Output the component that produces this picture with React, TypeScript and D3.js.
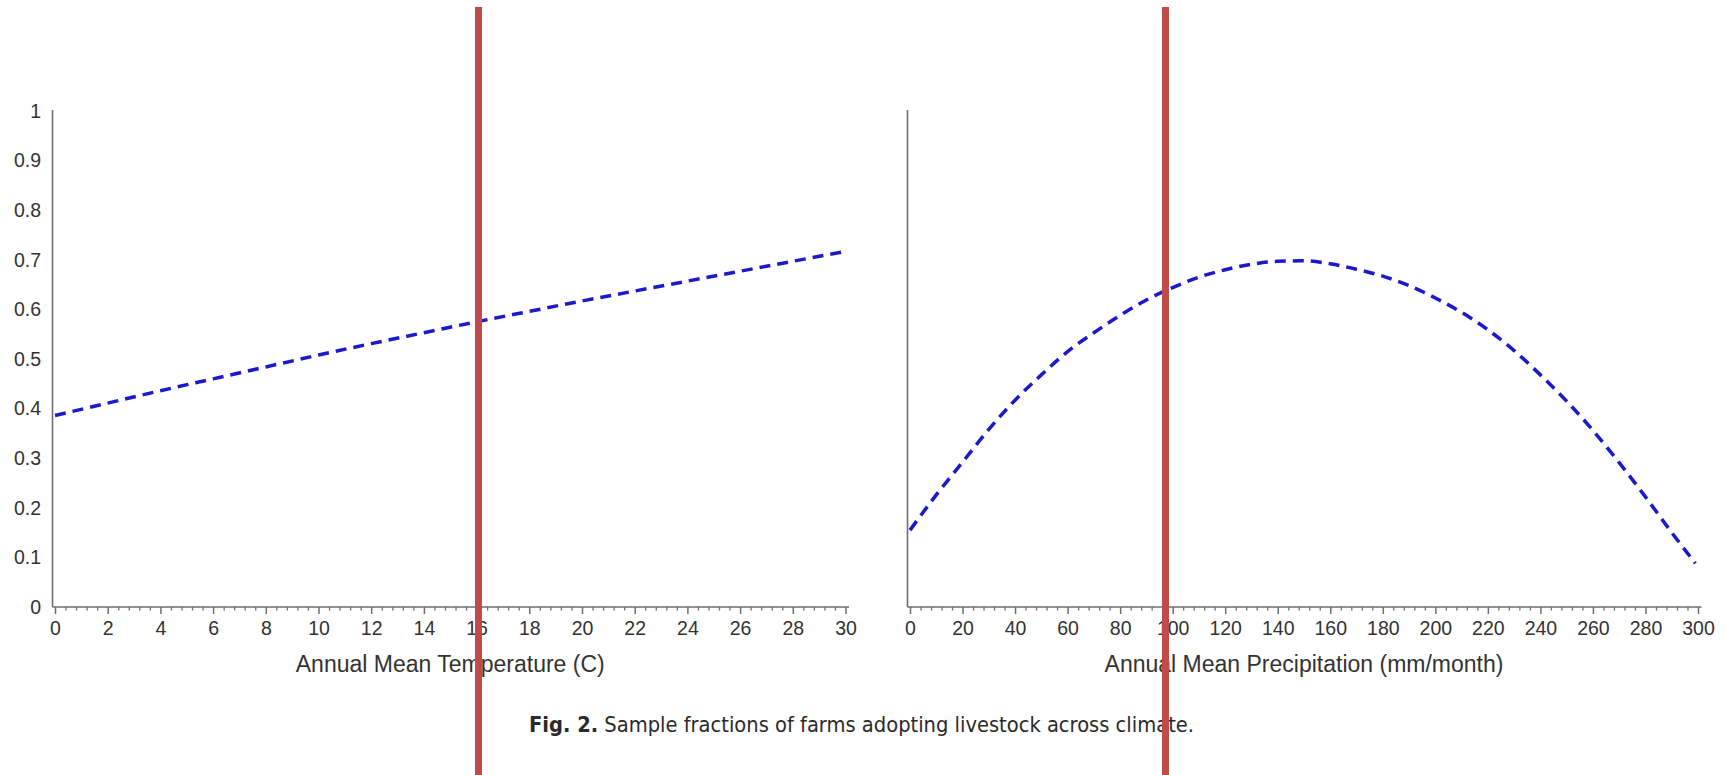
import React, { useRef, useEffect } from 'react';
import * as d3 from 'd3';

// Annual mean temperature (C) vs. share of farms with livestock
const tempValues = [0, 2, 4, 6, 8, 10, 12, 14, 16, 18, 20, 22, 24, 26, 28, 30];
const tempShare = [0.386, 0.411, 0.436, 0.46, 0.484, 0.508, 0.531, 0.553, 0.575, 0.596, 0.617, 0.637, 0.657, 0.677, 0.697, 0.717];

// Annual mean precipitation (mm/month) vs. share of farms with livestock
const precipValues = [0, 10, 20, 30, 40, 50, 60, 70, 80, 90, 100, 110, 120, 130, 140, 150, 160, 170, 180, 190, 200, 210, 220, 230, 240, 250, 260, 270, 280, 290, 299];
const precipShare = [0.155, 0.226, 0.292, 0.358, 0.417, 0.468, 0.515, 0.553, 0.588, 0.619, 0.644, 0.665, 0.68, 0.691, 0.697, 0.698, 0.692, 0.681, 0.667, 0.648, 0.623, 0.594, 0.559, 0.517, 0.468, 0.415, 0.356, 0.291, 0.222, 0.15, 0.088];

const tempTicks = [0, 2, 4, 6, 8, 10, 12, 14, 16, 18, 20, 22, 24, 26, 28, 30];
const precipTicks = [0, 20, 40, 60, 80, 100, 120, 140, 160, 180, 200, 220, 240, 260, 280, 300];
const shareTicks = [0, 0.1, 0.2, 0.3, 0.4, 0.5, 0.6, 0.7, 0.8, 0.9, 1];
const shareLabels = ['0', '0.1', '0.2', '0.3', '0.4', '0.5', '0.6', '0.7', '0.8', '0.9', '1'];

const axisTitles = ['Annual Mean Temperature (C)', 'Annual Mean Precipitation (mm/month)'];
const captionLead = 'Fig. 2.';
const captionRest = ' Sample fractions of farms adopting livestock across climate.';

const W = 1726;
const H = 775;
const FONT = '"Liberation Sans", Arial, Helvetica, sans-serif';
const AXIS_COLOR = '#6f6f6f';
const TEXT_COLOR = '#333';
const TICK_FONT = 19.5;

const ClimateCharts = () => {
    const svgRef = useRef<SVGSVGElement | null>(null);

    useEffect(() => {
        const svg = d3.select(svgRef.current);
        svg.selectAll('*').remove();

        const yScale = d3.scaleLinear().domain([0, 1]).range([607, 111]);

        const panels = [
            {
                x: d3.scaleLinear().domain([0, 30]).range([55, 845.5]),
                xs: tempValues,
                ys: tempShare,
                ticks: tempTicks,
                minorStep: 0.4,
                title: axisTitles[0],
                showY: true,
            },
            {
                x: d3.scaleLinear().domain([0, 300]).range([910, 1698]),
                xs: precipValues,
                ys: precipShare,
                ticks: precipTicks,
                minorStep: 4,
                title: axisTitles[1],
                showY: false,
            },
        ];

        panels.forEach((p) => {
            const g = svg.append('g');
            const [r0, r1] = p.x.range();
            const ax = r0 - 2.5;
            const [d0, d1] = p.x.domain();

            // axis lines
            g.append('line')
                .attr('x1', ax).attr('x2', ax)
                .attr('y1', yScale(0)).attr('y2', yScale(1) - 1)
                .attr('stroke', AXIS_COLOR).attr('stroke-width', 1.6);
            g.append('line')
                .attr('x1', ax).attr('x2', r1 + 3.5)
                .attr('y1', yScale(0)).attr('y2', yScale(0))
                .attr('stroke', AXIS_COLOR).attr('stroke-width', 1.6);

            // minor ticks
            const minor = d3.range(d0, d1 + 1e-6, p.minorStep)
                .filter((v) => !p.ticks.some((t) => Math.abs(t - v) < 1e-6));
            const gMinor = g.append('g')
                .attr('transform', `translate(0,${yScale(0)})`)
                .call(d3.axisBottom(p.x).tickValues(minor).tickSize(3.5).tickFormat(() => ''));
            gMinor.select('.domain').remove();
            gMinor.selectAll('line').attr('stroke', AXIS_COLOR).attr('stroke-width', 1.3);

            // major ticks + labels
            const gMajor = g.append('g')
                .attr('transform', `translate(0,${yScale(0)})`)
                .call(d3.axisBottom(p.x).tickValues(p.ticks).tickSize(7).tickPadding(7).tickFormat(d3.format('d')));
            gMajor.select('.domain').remove();
            gMajor.attr('font-size', null).attr('font-family', null);
            gMajor.selectAll('line').attr('stroke', AXIS_COLOR).attr('stroke-width', 1.5);
            gMajor.selectAll('text')
                .attr('font-size', TICK_FONT).attr('font-family', FONT).attr('fill', TEXT_COLOR);

            if (p.showY) {
                const gy = g.append('g')
                    .attr('transform', `translate(${ax},0)`)
                    .call(d3.axisLeft(yScale).tickValues(shareTicks).tickSize(0).tickPadding(11.5)
                        .tickFormat((_, i) => shareLabels[i]));
                gy.select('.domain').remove();
                gy.attr('font-size', null).attr('font-family', null);
                gy.selectAll('text')
                    .attr('font-size', TICK_FONT).attr('font-family', FONT).attr('fill', TEXT_COLOR);
            }

            // axis title
            g.append('text')
                .attr('x', (r0 + r1) / 2)
                .attr('y', 672)
                .attr('text-anchor', 'middle')
                .attr('font-size', 23)
                .attr('font-family', FONT)
                .attr('fill', TEXT_COLOR)
                .text(p.title);

            // fitted curve
            const pts: [number, number][] = p.xs.map((v, i) => [v, p.ys[i]]);
            const line = d3.line<[number, number]>()
                .x((d) => p.x(d[0]))
                .y((d) => yScale(d[1]))
                .curve(d3.curveMonotoneX);
            g.append('path')
                .datum(pts)
                .attr('d', line)
                .attr('fill', 'none')
                .attr('stroke', '#1a1acc')
                .attr('stroke-width', 3.5)
                .attr('stroke-dasharray', '11,7');
        });

        // caption
        const cap = svg.append('text')
            .attr('x', 529)
            .attr('y', 732)
            .attr('font-size', 22)
            .attr('font-family', '"Liberation Sans Narrow", "DejaVu Sans Condensed", "Liberation Sans", sans-serif')
            .attr('fill', '#2a2a2a')
            .attr('textLength', 665)
            .attr('lengthAdjust', 'spacingAndGlyphs');
        cap.append('tspan').attr('font-weight', 'bold').text(captionLead);
        cap.append('tspan').text(captionRest);

        // red marker bars overlaid on the figure
        svg.append('g')
            .selectAll('rect')
            .data([475, 1162])
            .join('rect')
            .attr('x', (d) => d)
            .attr('y', 7)
            .attr('width', 7)
            .attr('height', H - 7)
            .attr('fill', '#c04b48');
    }, []);

    return (
        <svg
            ref={svgRef}
            width={W}
            height={H}
            style={{ position: 'absolute', left: 0, top: 0, background: '#fff' }}
        ></svg>
    );
};

export default function App() {
    return <ClimateCharts />;
}
